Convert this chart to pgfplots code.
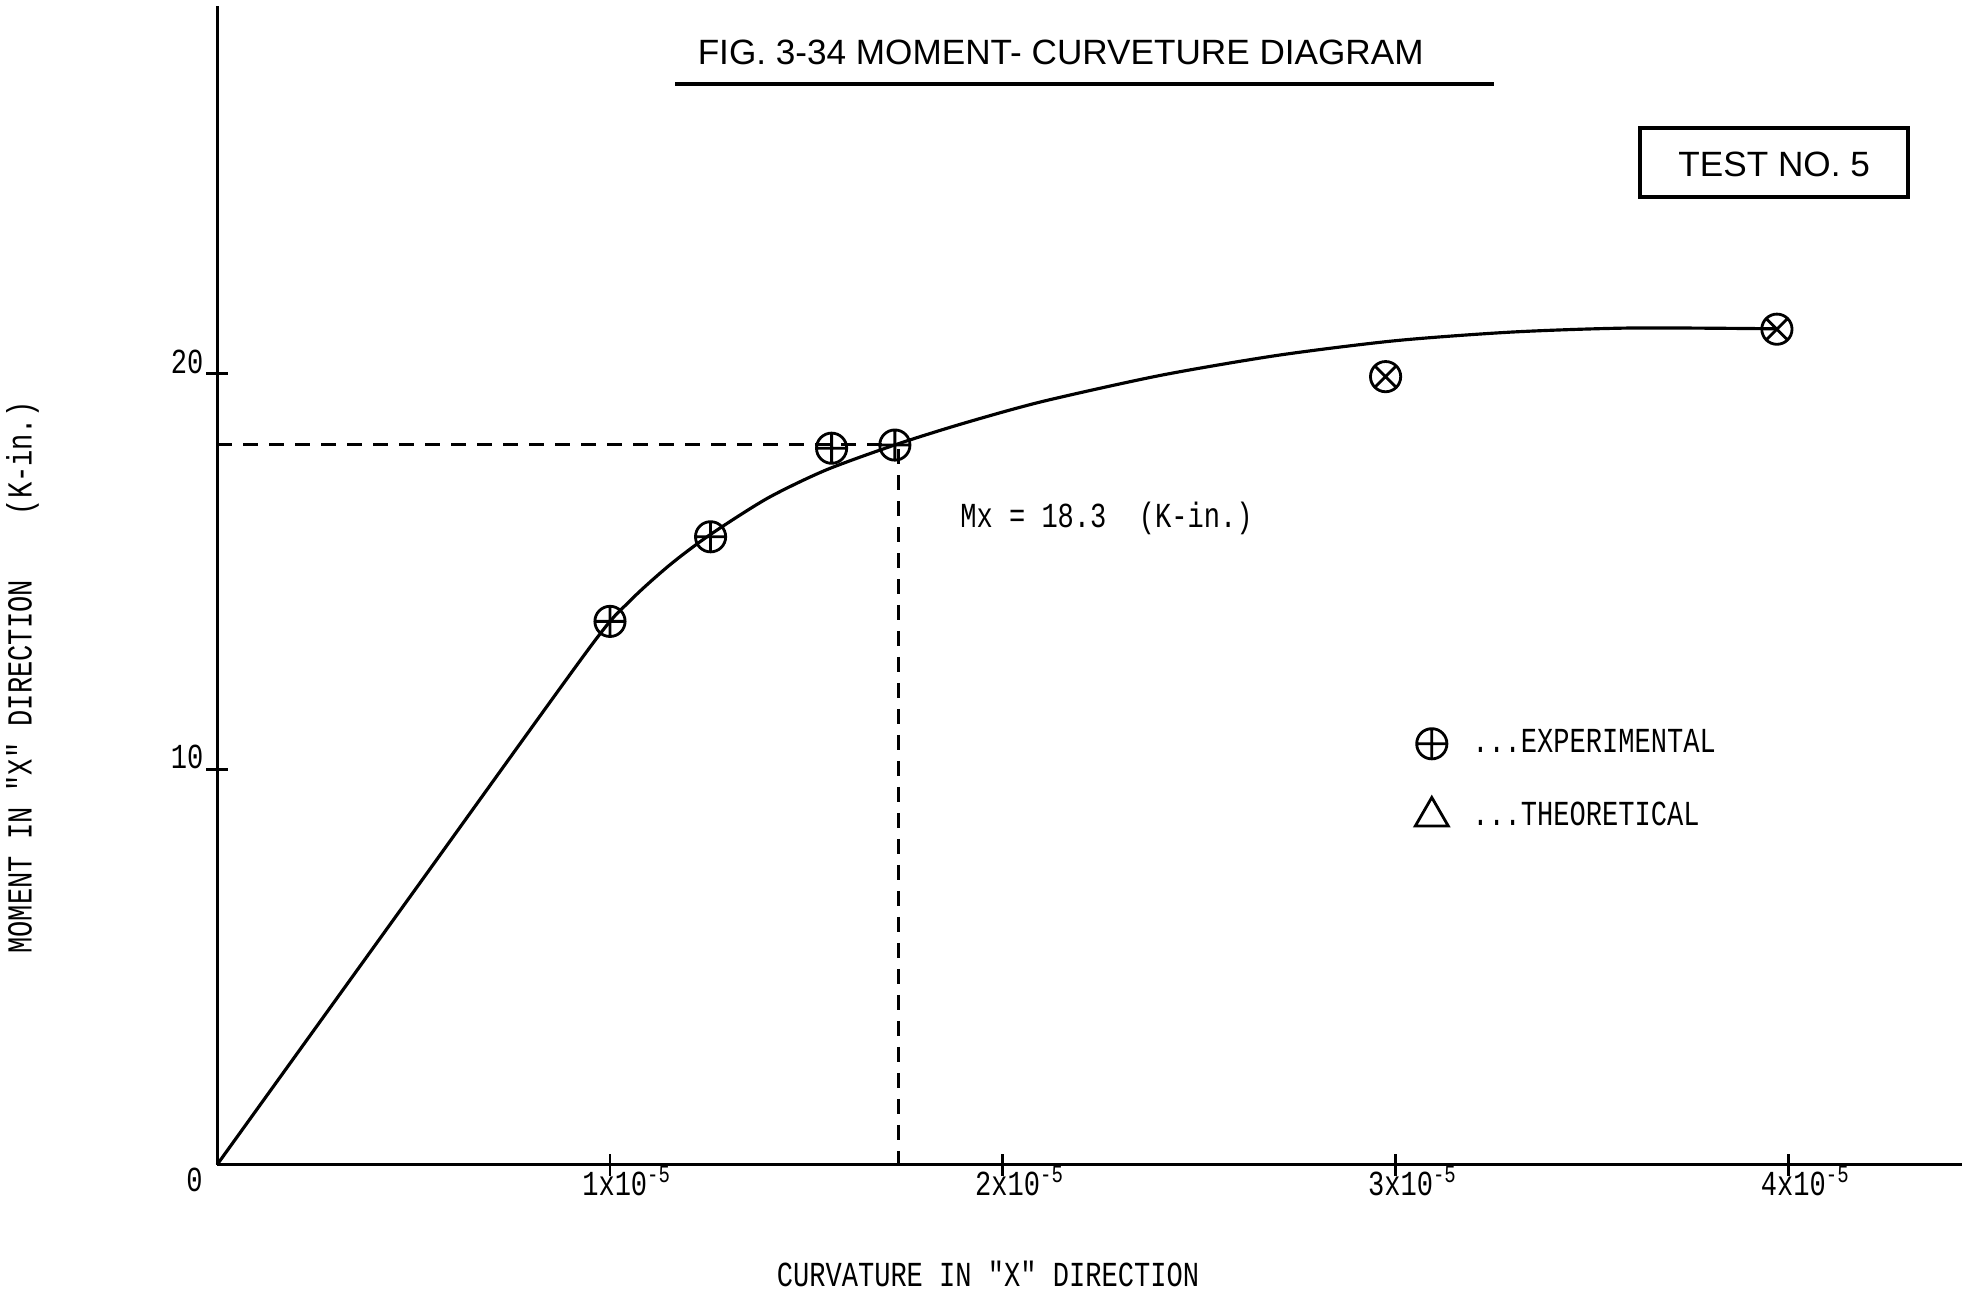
\documentclass[border=0pt]{standalone}
\usepackage{fontspec}
\usepackage{pgfplots}
\pgfplotsset{compat=1.18}
\newfontfamily\typew[FakeStretch=0.77]{Liberation Mono}
\newfontfamily\lettering{Liberation Sans}
\newcommand{\tw}{\typew\fontsize{10}{12}\selectfont}
\begin{document}
\begin{tikzpicture}
\begin{axis}[
  x=3.929cm, y=0.3954cm,
  anchor=origin, at={(0,0)},
  xmin=0, xmax=4.44, ymin=0, ymax=29.3,
  axis x line=bottom, axis y line=left,
  axis line style={-, line width=0.9pt},
  clip=false,
  xtick={1,2,3,4},
  xticklabels={1x10\textsuperscript{-5},2x10\textsuperscript{-5},3x10\textsuperscript{-5},4x10\textsuperscript{-5}},
  ytick={10,20}, yticklabels={10,20},
  tick align=center,
  major tick length=0.22cm,
  tick style={line width=0.8pt, black},
  xticklabel style={font=\tw, anchor=north, inner sep=0pt, xshift=0.17cm, yshift=0.1cm},
  yticklabel style={font=\tw, anchor=east, inner sep=0pt, xshift=-0.02cm, yshift=0.12cm},
  legend style={at={(axis cs:3.048,11.2)}, anchor=north west, draw=none, fill=none,
    inner sep=0pt, font=\tw, row sep=0.3cm, column sep=0.17cm, cells={anchor=west}},
]
% smooth moment-curvature curve
\addplot[black, line width=0.9pt, smooth, tension=0.45, forget plot] coordinates {
 (0,0) (0.5,6.9) (0.95,13.1) (1.05,14.25) (1.15,15.15) (1.25,15.9) (1.4,16.85)
 (1.55,17.57) (1.73,18.22) (1.9,18.75) (2.1,19.3) (2.4,19.96) (2.7,20.47)
 (3.0,20.84) (3.3,21.06) (3.6,21.16) (3.97,21.14)};
% Mx dashed guide lines
\addplot[black, line width=0.9pt, dash pattern=on 0.15cm off 0.11cm, forget plot]
  coordinates {(0,18.22) (1.72,18.22)};
\addplot[black, line width=0.9pt, dash pattern=on 0.15cm off 0.11cm, forget plot]
  coordinates {(1.735,18.1) (1.735,0)};
% experimental points
\addplot[only marks, mark=oplus, mark size=4.3pt, mark options={line width=0.8pt, black}]
  coordinates {(1.0,13.74) (1.256,15.88) (1.564,18.12) (1.725,18.2)};
\addlegendentry{...EXPERIMENTAL}
\addplot[only marks, mark=otimes, mark size=4.3pt, mark options={line width=0.8pt, black}, forget plot]
  coordinates {(2.974,19.93) (3.97,21.13)};
\addlegendimage{only marks, mark=triangle, mark size=5.4pt, mark options={line width=0.8pt, black}}
\addlegendentry{...THEORETICAL}
% texts
\node[font=\lettering\fontsize{10}{12}\selectfont] at (axis cs:2.147,28.13) {FIG. 3-34 MOMENT- CURVETURE DIAGRAM};
\draw[line width=0.9pt] (axis cs:1.166,27.33) -- (axis cs:3.249,27.33);
\draw[line width=1pt] (axis cs:3.622,24.47) rectangle (axis cs:4.304,26.22);
\node[font=\lettering\fontsize{10}{12}\selectfont] at (axis cs:3.963,25.3) {TEST NO. 5};
\node[font=\tw, anchor=west] at (axis cs:1.86,16.35) {Mx = 18.3\ \ (K-in.)};
\node[font=\tw, rotate=90] at (axis cs:-0.495,12.32) {MOMENT IN "X" DIRECTION\ \ \ \ (K-in.)};
\node[font=\tw] at (axis cs:1.962,-2.76) {CURVATURE IN "X" DIRECTION};
\node[font=\tw] at (axis cs:-0.0575,-0.38) {0};
\end{axis}
\pgfresetboundingbox
\useasboundingbox (-2.171,-1.263) rectangle (17.509,11.647);
\end{tikzpicture}
\end{document}
